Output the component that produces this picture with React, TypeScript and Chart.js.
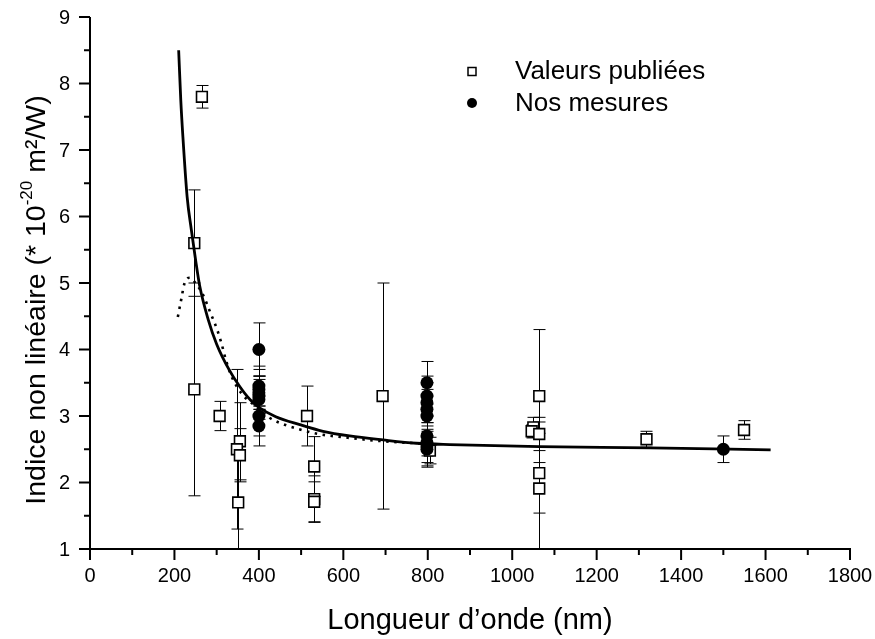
import React, { useEffect, useRef } from 'react';
import { Chart, registerables } from 'chart.js';

Chart.register(...registerables);

const FONT = '"Liberation Sans", Arial, Helvetica, sans-serif';

// Published values (open squares): wavelength (nm), n2 (1e-20 m²/W), error
const pubX = [265, 247, 247, 307, 355, 348, 355, 351, 514, 531, 531, 531, 693, 805, 1064, 1050, 1046, 1064, 1064, 1064, 1318, 1549];
const pubY = [7.80, 5.60, 3.40, 3.00, 2.62, 2.50, 2.41, 1.70, 3.00, 2.24, 1.75, 1.71, 3.30, 2.48, 3.30, 2.83, 2.77, 2.73, 2.14, 1.91, 2.65, 2.79];
const pubErr = [0.17, 0.80, 1.60, 0.22, 0.58, 1.20, 0.40, 0.75, 0.45, 0.45, 0.35, 0.30, 1.70, 0.20, 1.00, 0.15, 0.10, 0.25, 0.60, 1.00, 0.12, 0.14];

// Our measurements (filled circles)
const ourX = [400, 400, 400, 400, 400, 400, 400, 400, 798, 798, 798, 798, 798, 798, 798, 798, 798, 1500];
const ourY = [4.00, 3.45, 3.40, 3.35, 3.30, 3.25, 3.00, 2.85, 3.50, 3.30, 3.20, 3.10, 3.00, 2.70, 2.60, 2.55, 2.50, 2.50];
const ourErr = [0.40, 0.30, 0.30, 0.25, 0.30, 0.30, 0.30, 0.30, 0.32, 0.30, 0.30, 0.30, 0.30, 0.30, 0.30, 0.30, 0.27, 0.20];

// Solid fit curve
const fitX = [210, 215, 220, 230, 240, 250, 260, 280, 300, 330, 355, 380, 400, 440, 497, 552, 615, 694, 773, 852, 1064, 1327, 1612];
const fitY = [8.50, 7.75, 7.20, 6.30, 5.80, 5.35, 4.95, 4.45, 4.08, 3.69, 3.44, 3.24, 3.13, 2.99, 2.87, 2.77, 2.70, 2.64, 2.59, 2.57, 2.54, 2.52, 2.49];

// Dotted curve
const dotX = [208, 216, 224, 236, 252, 268, 284, 300, 311, 322, 335, 360, 394, 426, 465, 501, 540, 615, 694, 773, 830];
const dotY = [4.49, 4.75, 5.00, 5.08, 4.98, 4.82, 4.57, 4.32, 4.10, 3.84, 3.60, 3.33, 3.14, 2.97, 2.86, 2.79, 2.73, 2.67, 2.62, 2.59, 2.57];

const xTickValues = [0, 200, 400, 600, 800, 1000, 1200, 1400, 1600, 1800];
const xTickLabels = ['0', '200', '400', '600', '800', '1000', '1200', '1400', '1600', '1800'];
const xMinorValues = [100, 300, 500, 700, 900, 1100, 1300, 1500, 1700];
const yTickValues = [1, 2, 3, 4, 5, 6, 7, 8, 9];
const yTickLabels = ['1', '2', '3', '4', '5', '6', '7', '8', '9'];
const yMinorValues = [1.5, 2.5, 3.5, 4.5, 5.5, 6.5, 7.5, 8.5];

const legendLabels = ['Valeurs publiées', 'Nos mesures'];
const xTitle = 'Longueur d\u2019onde (nm)';
const yTitleParts = ['Indice non linéaire (* 10', '-20', ' m²/W)'];

const toPts = (xs: number[], ys: number[]) => xs.map((x, i) => ({ x, y: ys[i] }));

const decorPlugin = {
  id: 'decor',
  beforeDatasetsDraw(chart: any) {
    const { ctx, chartArea, scales } = chart;
    const xs = scales.x;
    const ys = scales.y;
    ctx.save();
    ctx.beginPath();
    ctx.rect(chartArea.left, chartArea.top, chartArea.right - chartArea.left, chartArea.bottom - chartArea.top);
    ctx.clip();
    ctx.strokeStyle = '#000';
    ctx.lineWidth = 1;
    const cap = 6;
    const drawBars = (X: number[], Y: number[], E: number[]) => {
      for (let i = 0; i < X.length; i++) {
        const px = Math.round(xs.getPixelForValue(X[i])) + 0.5;
        const pTop = ys.getPixelForValue(Y[i] + E[i]);
        const pBot = ys.getPixelForValue(Y[i] - E[i]);
        ctx.beginPath();
        ctx.moveTo(px, pTop);
        ctx.lineTo(px, pBot);
        ctx.moveTo(px - cap, pTop);
        ctx.lineTo(px + cap, pTop);
        ctx.moveTo(px - cap, pBot);
        ctx.lineTo(px + cap, pBot);
        ctx.stroke();
      }
    };
    drawBars(pubX, pubY, pubErr);
    drawBars(ourX, ourY, ourErr);
    ctx.restore();
  },
  afterDraw(chart: any) {
    const { ctx, chartArea, scales } = chart;
    const xs = scales.x;
    const ys = scales.y;
    const L = chartArea.left;
    const B = chartArea.bottom;
    ctx.save();
    ctx.strokeStyle = '#000';
    ctx.lineWidth = 2;
    ctx.lineCap = 'butt';
    // axes
    ctx.beginPath();
    ctx.moveTo(L, chartArea.top);
    ctx.lineTo(L, B + 1);
    ctx.moveTo(L - 1, B);
    ctx.lineTo(chartArea.right + 1, B);
    ctx.stroke();
    // ticks
    ctx.beginPath();
    xTickValues.forEach((v) => {
      const p = xs.getPixelForValue(v);
      ctx.moveTo(p, B);
      ctx.lineTo(p, B + 11);
    });
    xMinorValues.forEach((v) => {
      const p = xs.getPixelForValue(v);
      ctx.moveTo(p, B);
      ctx.lineTo(p, B + 6);
    });
    yTickValues.forEach((v) => {
      const p = ys.getPixelForValue(v);
      ctx.moveTo(L, p);
      ctx.lineTo(L - 11, p);
    });
    yMinorValues.forEach((v) => {
      const p = ys.getPixelForValue(v);
      ctx.moveTo(L, p);
      ctx.lineTo(L - 6, p);
    });
    ctx.stroke();

    ctx.fillStyle = '#000';
    // tick labels
    ctx.font = `20px ${FONT}`;
    ctx.textAlign = 'center';
    ctx.textBaseline = 'middle';
    xTickValues.forEach((v, i) => {
      ctx.fillText(xTickLabels[i], xs.getPixelForValue(v), B + 27);
    });
    ctx.textAlign = 'right';
    yTickValues.forEach((v, i) => {
      ctx.fillText(yTickLabels[i], L - 20, ys.getPixelForValue(v) + 1);
    });

    // x title
    ctx.font = `29px ${FONT}`;
    ctx.textAlign = 'center';
    ctx.textBaseline = 'middle';
    ctx.fillText(xTitle, (chartArea.left + chartArea.right) / 2, 621);

    // y title with superscript
    ctx.save();
    ctx.translate(37, 300);
    ctx.rotate(-Math.PI / 2);
    const mainFont = `28.5px ${FONT}`;
    const supFont = `17px ${FONT}`;
    ctx.font = mainFont;
    const w0 = ctx.measureText(yTitleParts[0]).width;
    const w2 = ctx.measureText(yTitleParts[2]).width;
    ctx.font = supFont;
    const w1 = ctx.measureText(yTitleParts[1]).width;
    let cx = -(w0 + w1 + w2) / 2;
    ctx.textAlign = 'left';
    ctx.textBaseline = 'middle';
    ctx.font = mainFont;
    ctx.fillText(yTitleParts[0], cx, 0);
    cx += w0;
    ctx.font = supFont;
    ctx.fillText(yTitleParts[1], cx, -10);
    cx += w1;
    ctx.font = mainFont;
    ctx.fillText(yTitleParts[2], cx, 0);
    ctx.restore();

    // legend
    ctx.lineWidth = 1.5;
    ctx.fillStyle = '#fff';
    ctx.strokeStyle = '#000';
    ctx.fillRect(468, 67.5, 8, 8);
    ctx.strokeRect(468, 67.5, 8, 8);
    ctx.fillStyle = '#000';
    ctx.beginPath();
    ctx.arc(472, 103, 5, 0, Math.PI * 2);
    ctx.fill();
    ctx.font = `26px ${FONT}`;
    ctx.textAlign = 'left';
    ctx.textBaseline = 'middle';
    ctx.fillText(legendLabels[0], 515, 72);
    ctx.fillText(legendLabels[1], 515, 104);
    ctx.restore();
  },
};

export default function App() {
  const canvasRef = useRef<HTMLCanvasElement | null>(null);

  useEffect(() => {
    if (!canvasRef.current) return;
    const chart = new Chart(canvasRef.current, {
      type: 'scatter',
      data: {
        datasets: [
          {
            label: 'fit',
            data: toPts(fitX, fitY),
            showLine: true,
            borderColor: '#000',
            borderWidth: 2.8,
            pointRadius: 0,
            cubicInterpolationMode: 'monotone',
            fill: false,
          },
          {
            label: 'dotted',
            data: toPts(dotX, dotY),
            showLine: true,
            borderColor: '#000',
            borderWidth: 2.6,
            borderDash: [2.5, 5.5],
            pointRadius: 0,
            cubicInterpolationMode: 'monotone',
            fill: false,
          },
          {
            label: legendLabels[1],
            data: toPts(ourX, ourY),
            pointStyle: 'circle',
            pointRadius: 6.5,
            backgroundColor: '#000',
            borderColor: '#000',
            borderWidth: 0,
          },
          {
            label: legendLabels[0],
            data: toPts(pubX, pubY),
            pointStyle: 'rect',
            pointRadius: 7.6,
            backgroundColor: '#fff',
            borderColor: '#000',
            borderWidth: 1.6,
          },
        ],
      },
      options: {
        animation: false,
        responsive: true,
        maintainAspectRatio: false,
        devicePixelRatio: 1,
        events: [],
        layout: { padding: { top: 17, right: 25, left: 0, bottom: 0 } },
        plugins: {
          legend: { display: false },
          tooltip: { enabled: false },
          title: { display: false },
        },
        scales: {
          x: {
            type: 'linear',
            min: 0,
            max: 1800,
            grid: { display: false, drawTicks: false, drawOnChartArea: false },
            border: { display: false },
            ticks: { display: false, stepSize: 200 },
            afterFit: (s: any) => {
              s.height = 90;
            },
          },
          y: {
            type: 'linear',
            min: 1,
            max: 9,
            grid: { display: false, drawTicks: false, drawOnChartArea: false },
            border: { display: false },
            ticks: { display: false, stepSize: 1 },
            afterFit: (s: any) => {
              s.width = 90;
            },
          },
        },
      } as any,
      plugins: [decorPlugin],
    });
    return () => chart.destroy();
  }, []);

  return (
    <div style={{ position: 'absolute', left: 0, top: 0, width: 875, height: 639, background: '#fff' }}>
      <canvas ref={canvasRef} />
    </div>
  );
}
